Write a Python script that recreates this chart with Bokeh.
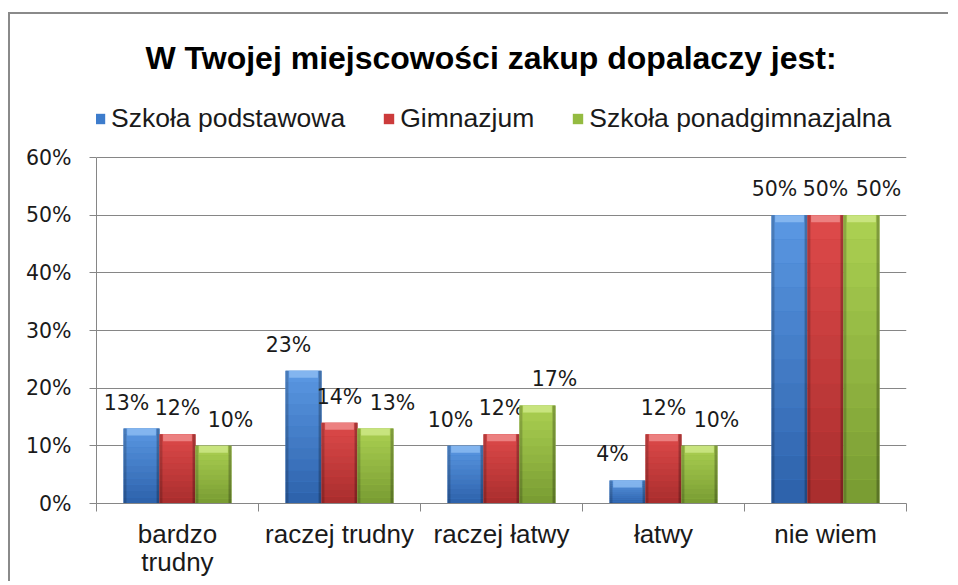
from bokeh.plotting import figure
from bokeh.models import (FixedTicker, NumeralTickFormatter, Legend, LegendItem,
                          Range1d, ColumnDataSource)
from bokeh.core.properties import value
from bokeh.embed import file_html
from bokeh.resources import INLINE

# ---------------- data ----------------
title_text = "W Twojej miejscowości zakup dopalaczy jest:"
categories = ["bardzo\ntrudny", "raczej trudny", "raczej łatwy", "łatwy", "nie wiem"]
series_names = ["Szkoła podstawowa", "Gimnazjum", "Szkoła ponadgimnazjalna"]
podstawowa = [13, 23, 10, 4, 50]
gimnazjum = [12, 14, 12, 12, 50]
ponadgimnazjalna = [10, 13, 17, 10, 50]
y_ticks = [0, 10, 20, 30, 40, 50, 60]

# ---------------- styles ----------------
top_colors = ["#5b98e3", "#de4a4a", "#acd152"]
bottom_colors = ["#2c61aa", "#a82d2d", "#789b32"]
mid_colors = ["#3d7ccc", "#cc3b3b", "#94bb41"]
bevel_colors = ["#8dbdf2", "#f08e8e", "#d0e88a"]
label_dx = [-15, 0, 17]

NUM_FONT = "DejaVu Sans"
TXT_FONT = "Liberation Sans"

W, H = 940, 569
FRAME_TOP = 80          # px from canvas top to frame top
TOP60 = 143             # px from canvas top to the 60% line
BOTTOM_PANEL = 80       # px reserved below the axis
Y_MAX = 0.6


def hex2rgb(h):
    h = h.lstrip("#")
    return tuple(int(h[i:i + 2], 16) for i in (0, 2, 4))


def mix(c1, c2, t):
    a, b = hex2rgb(c1), hex2rgb(c2)
    return "#%02x%02x%02x" % tuple(int(round(a[i] + (b[i] - a[i]) * t)) for i in range(3))


frame_h = H - FRAME_TOP - BOTTOM_PANEL
axis_px = frame_h - (TOP60 - FRAME_TOP)
y_top = Y_MAX * frame_h / axis_px

p = figure(width=W, height=H, output_backend="svg", toolbar_location=None,
           x_range=Range1d(0, len(categories)), y_range=Range1d(0, y_top),
           min_border_left=86, min_border_right=44, min_border_top=FRAME_TOP,
           min_border_bottom=BOTTOM_PANEL)
p.styles = {"position": "relative", "left": "10px", "top": "14px",
            "box-shadow": "-2px -2px 0 0 #8a8a8a"}
p.outline_line_color = None
p.background_fill_color = "white"
p.border_fill_color = "white"

# title
p.title.text = title_text
p.title.align = "left"
p.title.offset = 49
p.title.text_font = TXT_FONT
p.title.text_font_size = "32px"
p.title.text_font_style = "bold"
p.title.text_color = "#000000"
p.title.standoff = 38

bar_w = 0.222
offsets = [-bar_w, 0.0, bar_w]
all_series = [podstawowa, gimnazjum, ponadgimnazjalna]
N = 12
bevel_h = Y_MAX * 7 / axis_px
edge_w = 0.018

legend_items = []
for s, vals in enumerate(all_series):
    xs = [i + 0.5 + offsets[s] for i in range(len(categories))]
    ys = [v / 100 for v in vals]
    src = ColumnDataSource(dict(x=xs, top=ys))
    base = p.vbar(x="x", top="top", bottom=0, width=bar_w, source=src,
                  fill_color=mid_colors[s], line_color=None)
    legend_items.append(LegendItem(label=series_names[s], renderers=[base]))
    for k in range(N):
        t = (k + 0.5) / N
        col = mix(bottom_colors[s], top_colors[s], t)
        p.vbar(x=xs, bottom=[y * k / N for y in ys], top=[y * (k + 1) / N for y in ys],
               width=bar_w, fill_color=col, line_color=None)
    p.vbar(x=[x - bar_w / 2 + edge_w / 2 for x in xs], top=ys, bottom=0, width=edge_w,
           fill_color="black", fill_alpha=0.18, line_color=None)
    p.vbar(x=[x + bar_w / 2 - edge_w / 2 for x in xs], top=ys, bottom=0, width=edge_w,
           fill_color="black", fill_alpha=0.25, line_color=None)
    p.vbar(x=xs, top=ys, bottom=[max(y - bevel_h, 0) for y in ys], width=bar_w * 0.8,
           fill_color=bevel_colors[s], fill_alpha=0.8, line_color=None)
    p.text(x=xs, y=ys, text=["%d%%" % v for v in vals], x_offset=label_dx[s], y_offset=-26,
           text_align="center", text_baseline="middle", text_font=value(NUM_FONT),
           text_font_size="20.5px", text_color="#1a1a1a")

legend = Legend(items=legend_items, orientation="horizontal",
                location=(-3, frame_h - 40),
                glyph_width=13, glyph_height=13, label_standoff=5, spacing=37,
                label_text_font=TXT_FONT, label_text_font_size="26.5px",
                label_text_color="#1a1a1a", border_line_alpha=0, padding=0, margin=0,
                background_fill_alpha=0)
p.add_layout(legend)

p.yaxis.ticker = FixedTicker(ticks=[v / 100 for v in y_ticks])
p.yaxis.bounds = (0, Y_MAX)
p.yaxis.formatter = NumeralTickFormatter(format="0%")
p.yaxis.major_label_text_font = NUM_FONT
p.yaxis.major_label_text_font_size = "20.5px"
p.yaxis.major_label_text_color = "#1a1a1a"
p.yaxis.axis_line_color = "#868686"
p.yaxis.major_tick_line_color = "#868686"
p.yaxis.major_tick_out = 7
p.yaxis.major_tick_in = 0
p.yaxis.minor_tick_line_color = None
p.yaxis.major_label_standoff = 18

p.xaxis.ticker = FixedTicker(ticks=[i + 0.5 for i in range(len(categories))],
                             minor_ticks=list(range(len(categories) + 1)))
p.xaxis.major_label_overrides = {i + 0.5: c for i, c in enumerate(categories)}
p.xaxis.major_label_text_font = TXT_FONT
p.xaxis.major_label_text_font_size = "26px"
p.xaxis.major_label_text_line_height = 0.95
p.xaxis.major_label_text_color = "#1a1a1a"
p.xaxis.axis_line_color = "#868686"
p.xaxis.major_tick_line_color = None
p.xaxis.major_tick_out = 0
p.xaxis.minor_tick_line_color = "#868686"
p.xaxis.minor_tick_out = 8
p.xaxis.minor_tick_in = 0
p.xaxis.major_label_standoff = 7

p.xgrid.grid_line_color = None
p.ygrid.grid_line_color = "#868686"
p.ygrid.ticker = FixedTicker(ticks=[v / 100 for v in y_ticks])

open("out.html", "w").write(file_html(p, INLINE))
